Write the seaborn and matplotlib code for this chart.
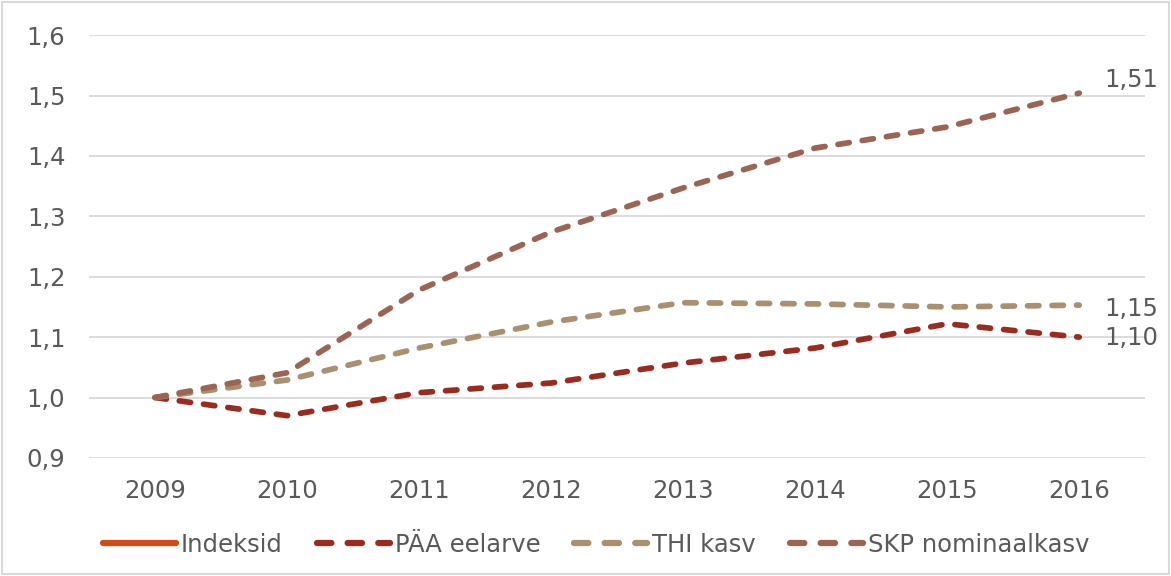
import matplotlib
matplotlib.use("Agg")
import matplotlib.pyplot as plt
import seaborn as sns
import pandas as pd
from matplotlib.lines import Line2D
from matplotlib.patches import Rectangle

# andmed (loetud jooniselt)
aastad = ["2009", "2010", "2011", "2012", "2013", "2014", "2015", "2016"]
paa_eelarve = [1.00, 0.970, 1.008, 1.024, 1.057, 1.082, 1.122, 1.100]
thi_kasv = [1.00, 1.029, 1.082, 1.125, 1.157, 1.155, 1.150, 1.153]
skp_nominaalkasv = [1.00, 1.041, 1.178, 1.274, 1.347, 1.413, 1.448, 1.504]
lopu_sildid = ["1,10", "1,15", "1,51"]

seeriad = ["PÄA eelarve", "THI kasv", "SKP nominaalkasv"]
varvid = ["#9B2B1F", "#A89070", "#9C6455"]

df = pd.DataFrame({
    "aasta": aastad * 3,
    "vaartus": paa_eelarve + thi_kasv + skp_nominaalkasv,
    "seeria": [s for s in seeriad for _ in aastad],
})

sns.set_style("white")
plt.rcParams["font.family"] = ["DejaVu Sans"]
tekst = "#595959"
fs = 17.5

fig = plt.figure(figsize=(11.71, 5.76), dpi=100)
ax = fig.add_axes([0.076, 0.205, 0.902, 0.734])

sns.lineplot(data=df, x="aasta", y="vaartus", hue="seeria", hue_order=seeriad,
             palette=varvid, ax=ax, linewidth=4.1, legend=False, sort=False)
for ln in ax.get_lines():
    ln.set_dashes([2.0, 2.3])
    ln.set_dash_capstyle("round")

ax.set_ylim(0.9, 1.6)
ax.set_xlim(-0.5, 7.5)
ax.set_yticks([0.9, 1.0, 1.1, 1.2, 1.3, 1.4, 1.5, 1.6])
ax.set_yticklabels(["0,9", "1,0", "1,1", "1,2", "1,3", "1,4", "1,5", "1,6"])
ax.yaxis.grid(True, color="#D9D9D9", linewidth=1.3)
ax.xaxis.grid(False)
for s in ax.spines.values():
    s.set_visible(False)
ax.tick_params(axis="both", length=0, labelsize=fs, labelcolor=tekst)
ax.tick_params(axis="y", pad=17)
ax.tick_params(axis="x", pad=15)
ax.set_xlabel("")
ax.set_ylabel("")

# lõpuväärtuste sildid
lopp = [paa_eelarve[-1], thi_kasv[-1], skp_nominaalkasv[-1]]
nihked = [-0.001, -0.006, 0.022]
for v, silt, n in zip(lopp, lopu_sildid, nihked):
    ax.annotate(silt, xy=(7, v + n), xytext=(18, 0), textcoords="offset points",
                fontsize=fs, color=tekst, va="center", ha="left",
                annotation_clip=False)

# legend
kasitsejad = [Line2D([], [], color="#D24B17", linewidth=4.5, solid_capstyle="round")]
for c in varvid:
    kasitsejad.append(Line2D([], [], color=c, linewidth=4.5, dashes=[2.3, 2.6],
                             dash_capstyle="round"))
fig.legend(kasitsejad, ["Indeksid"] + seeriad, loc="center",
           bbox_to_anchor=(0.509, 0.054), ncol=4, frameon=False, fontsize=fs,
           labelcolor=tekst, handlelength=3.0, handletextpad=0.2,
           columnspacing=1.4)

fig.patches.append(Rectangle((0.002, 0.003), 0.996, 0.994, transform=fig.transFigure,
                             fill=False, edgecolor="#D9D9D9", linewidth=1.5))

fig.savefig("out.png", dpi=100)
